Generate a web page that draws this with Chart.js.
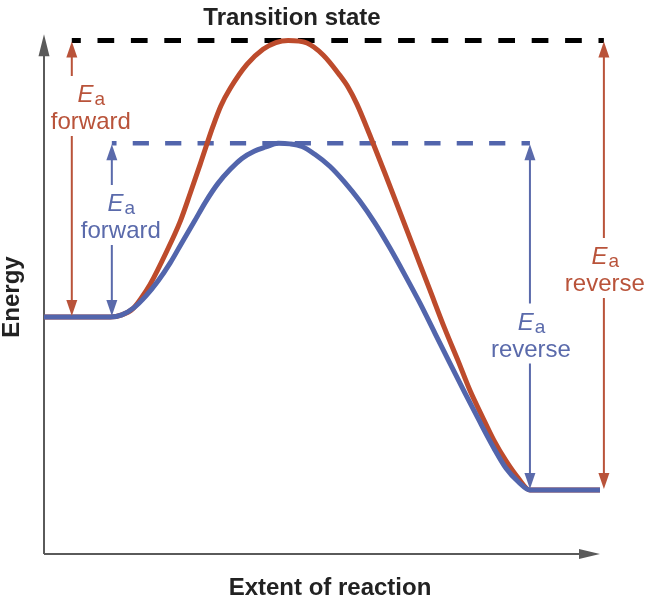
<!DOCTYPE html>
<html>
<head>
<meta charset="utf-8">
<title>Activation energy with and without a catalyst</title>
<script src="https://cdn.jsdelivr.net/npm/chart.js@4.4.1/dist/chart.umd.min.js"></script>
<style>
  html, body { margin: 0; padding: 0; background: #fff; }
  #wrap { width: 647px; height: 600px; }
</style>
</head>
<body>
<div id="wrap"><canvas id="chart" width="647" height="600"></canvas></div>
<script>
(function () {
  'use strict';

  // extent of reaction (0 = start of axis, 100 = arrow tip) and energy (arbitrary units)
  const uncatX = [0, 11.9, 14.0, 16.0, 17.6, 19.1, 22.1, 24.5, 26.3, 28.1,
    30.4, 31.8, 33.5, 36.5, 39.4, 41.7, 43.9, 47.3, 50.2, 53.2,
    54.7, 56.3, 58.6, 61.3, 64.0, 66.7, 69.4, 72.1, 74.5, 76.6,
    78.8, 80.9, 83.1, 85.3, 87.4, 100];
  const uncatEnergy = [45.6, 45.6, 46.0, 47.2, 49.4, 51.9, 58.3, 64.0, 69.4, 75.0,
    82.3, 86.2, 89.6, 94.2, 97.1, 98.4, 98.8, 98.3, 96.0, 92.1,
    89.8, 86.5, 80.6, 73.3, 65.8, 58.3, 50.8, 43.3, 37.1, 31.5,
    26.5, 21.9, 17.9, 14.6, 12.3, 12.3];

  const catX = [0, 11.9, 14.0, 16.2, 18.3, 20.5, 22.7, 24.8, 27.0, 29.1,
    31.3, 33.5, 35.6, 37.8, 39.9, 42.1, 44.2, 46.4, 48.7, 51.4,
    54.1, 56.8, 59.5, 62.2, 64.9, 67.6, 70.3, 73.0, 75.7, 78.4,
    80.9, 83.1, 85.3, 87.4, 100];
  const catEnergy = [45.6, 45.6, 46.0, 47.4, 49.6, 52.5, 56.0, 59.9, 63.9, 67.8,
    71.3, 74.0, 76.1, 77.5, 78.3, 79.0, 78.9, 78.4, 76.9, 74.6,
    71.5, 67.9, 63.7, 58.9, 53.7, 48.3, 42.5, 36.7, 31.0, 25.4,
    20.4, 16.5, 13.9, 12.3, 12.3];

  const REACTANT_E = 45.6;
  const PRODUCT_E = 12.3;
  const TS_UNCAT_E = 98.8;
  const TS_CAT_E = 79.0;

  // where the Ea arrows stand on the reaction axis
  const arrowX = [5.0, 12.2, 87.4, 100.7];
  const tsUncatLineX = [arrowX[0], arrowX[3]];
  const tsCatLineX = [arrowX[1], arrowX[2]];

  const RED = '#bd4b2c';
  const RED_TEXT = '#b9533a';
  const BLUE = '#5265ac';
  const BLUE_TEXT = '#5a6aab';
  const AXIS = '#5a5a5a';
  const FONT = '"Liberation Sans", Arial, Helvetica, sans-serif';

  const eaArrows = [
    { x: arrowX[0], from: REACTANT_E, to: TS_UNCAT_E, color: RED_TEXT, word: 'forward', labelAt: 86.2, dx: 19 },
    { x: arrowX[1], from: REACTANT_E, to: TS_CAT_E, color: BLUE_TEXT, word: 'forward', labelAt: 65.2, dx: 9 },
    { x: arrowX[2], from: PRODUCT_E, to: TS_CAT_E, color: BLUE_TEXT, word: 'reverse', labelAt: 42.4, dx: 1 },
    { x: arrowX[3], from: PRODUCT_E, to: TS_UNCAT_E, color: RED_TEXT, word: 'reverse', labelAt: 55.0, dx: 1 },
  ];

  function toPoints(xs, ys) {
    return xs.map((x, i) => ({ x, y: ys[i] }));
  }

  function level(xs, e) {
    return xs.map((x) => ({ x, y: e }));
  }

  function head(ctx, x, tipY, dir) {
    // dir = -1 points up, +1 points down
    const len = 16;
    const half = 5.5;
    ctx.beginPath();
    ctx.moveTo(x, tipY);
    ctx.lineTo(x - half, tipY - dir * len);
    ctx.lineTo(x + half, tipY - dir * len);
    ctx.closePath();
    ctx.fill();
  }

  const axesPlugin = {
    id: 'axes',
    beforeDatasetsDraw(chart) {
      const { ctx, scales } = chart;
      const x0 = scales.x.getPixelForValue(0);
      const y0 = scales.y.getPixelForValue(0);
      const xTip = scales.x.getPixelForValue(100);
      const yTip = scales.y.getPixelForValue(100);

      ctx.save();
      ctx.strokeStyle = AXIS;
      ctx.fillStyle = AXIS;
      ctx.lineWidth = 2;
      ctx.beginPath();
      ctx.moveTo(x0, y0);
      ctx.lineTo(x0, yTip + 10);
      ctx.moveTo(x0, y0);
      ctx.lineTo(xTip - 10, y0);
      ctx.stroke();

      ctx.beginPath();
      ctx.moveTo(x0, yTip);
      ctx.lineTo(x0 - 5.5, yTip + 22);
      ctx.lineTo(x0 + 5.5, yTip + 22);
      ctx.closePath();
      ctx.fill();

      ctx.beginPath();
      ctx.moveTo(xTip, y0);
      ctx.lineTo(xTip - 21, y0 - 5);
      ctx.lineTo(xTip - 21, y0 + 5);
      ctx.closePath();
      ctx.fill();

      ctx.fillStyle = '#222';
      ctx.font = 'bold 24px ' + FONT;
      ctx.textAlign = 'center';
      ctx.textBaseline = 'alphabetic';
      ctx.fillText('Transition state', 292, 25);
      ctx.fillText('Extent of reaction', 330, 595);

      ctx.translate(19, 297);
      ctx.rotate(-Math.PI / 2);
      ctx.fillText('Energy', 0, 0);
      ctx.restore();
    },
  };

  const eaPlugin = {
    id: 'eaArrows',
    afterDatasetsDraw(chart) {
      const { ctx, scales } = chart;
      ctx.save();
      for (const a of eaArrows) {
        const x = scales.x.getPixelForValue(a.x);
        const top = scales.y.getPixelForValue(a.to);
        const bottom = scales.y.getPixelForValue(a.from);
        const cy = scales.y.getPixelForValue(a.labelAt);

        ctx.strokeStyle = a.color;
        ctx.fillStyle = a.color;
        ctx.lineWidth = 2;
        ctx.beginPath();
        ctx.moveTo(x, top + 12);
        ctx.lineTo(x, cy - 30);
        ctx.moveTo(x, cy + 30);
        ctx.lineTo(x, bottom - 12);
        ctx.stroke();
        head(ctx, x, top + 1, -1);
        head(ctx, x, bottom - 1, 1);

        const cx = x + a.dx;
        ctx.textBaseline = 'alphabetic';
        ctx.textAlign = 'left';
        ctx.font = 'italic 24px ' + FONT;
        const wE = ctx.measureText('E').width;
        ctx.font = '19px ' + FONT;
        const wa = ctx.measureText('a').width;
        const start = cx - (wE + wa) / 2;
        ctx.font = 'italic 24px ' + FONT;
        ctx.fillText('E', start, cy - 4);
        ctx.font = '19px ' + FONT;
        ctx.fillText('a', start + wE + 1, cy - 1);

        ctx.font = '24px ' + FONT;
        ctx.textAlign = 'center';
        ctx.fillText(a.word, cx, cy + 23);
      }
      ctx.restore();
    },
  };

  new Chart(document.getElementById('chart'), {
    type: 'line',
    data: {
      datasets: [
        {
          label: 'With catalyst',
          data: toPoints(catX, catEnergy),
          borderColor: BLUE,
          borderWidth: 5,
          borderJoinStyle: 'round',
          cubicInterpolationMode: 'monotone',
          clip: false,
        },
        {
          label: 'Without catalyst',
          data: toPoints(uncatX, uncatEnergy),
          borderColor: RED,
          borderWidth: 5,
          borderJoinStyle: 'round',
          cubicInterpolationMode: 'monotone',
          clip: false,
        },
        {
          label: 'Transition state (catalysed)',
          data: level(tsCatLineX, TS_CAT_E),
          borderColor: BLUE,
          borderWidth: 4.5,
          borderDash: [16.2, 16.2],
          borderDashOffset: 11.5,
          clip: false,
        },
        {
          label: 'Transition state',
          data: level(tsUncatLineX, TS_UNCAT_E),
          borderColor: '#000',
          borderWidth: 5,
          borderDash: [16.7, 16.7],
          borderDashOffset: 7.7,
          clip: false,
        },
      ],
    },
    options: {
      responsive: false,
      animation: false,
      layout: { padding: { left: 44, right: 37, top: 29, bottom: 46 } },
      elements: { point: { radius: 0 } },
      scales: {
        x: { type: 'linear', min: 0, max: 101.8, display: false },
        y: { type: 'linear', min: 0, max: 101, display: false },
      },
      plugins: {
        legend: { display: false },
        tooltip: { enabled: false },
      },
    },
    plugins: [axesPlugin, eaPlugin],
  });
})();
</script>
</body>
</html>
